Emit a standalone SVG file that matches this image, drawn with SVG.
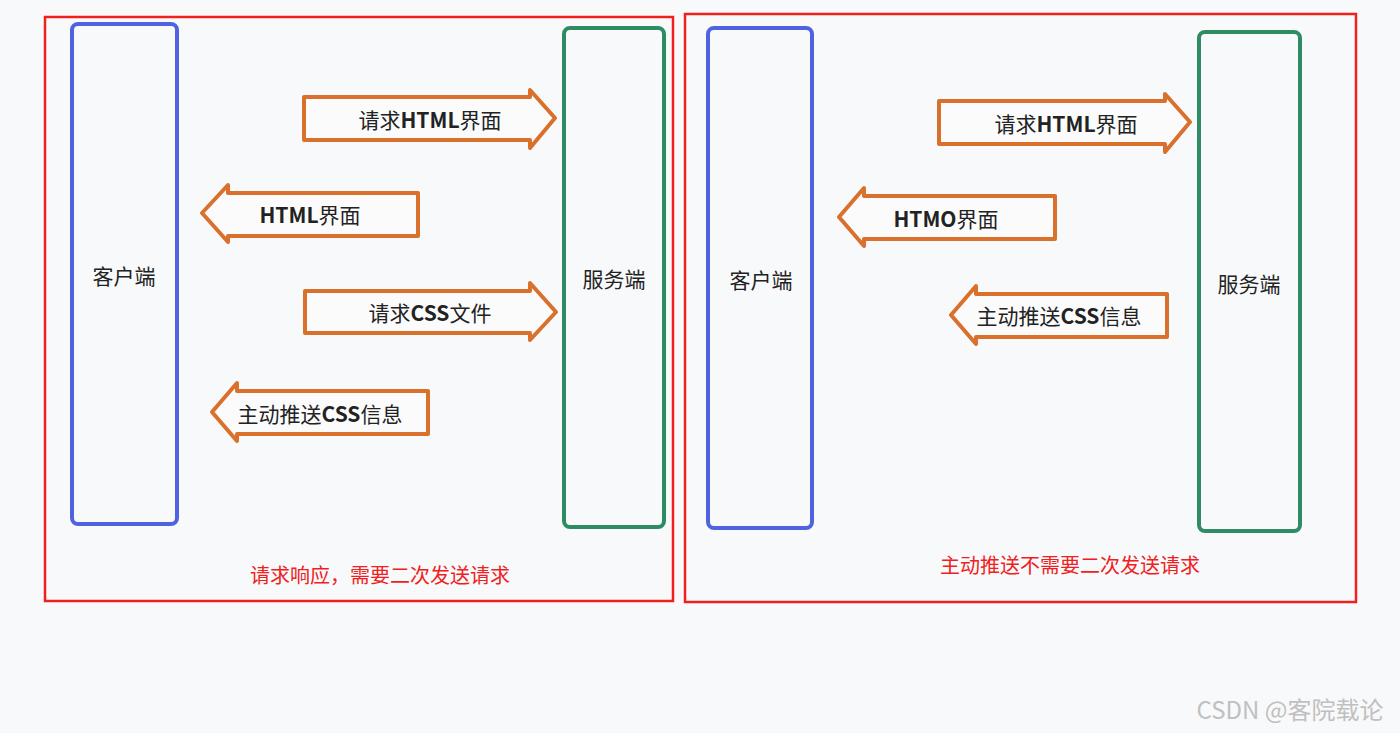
<svg xmlns="http://www.w3.org/2000/svg" width="1400" height="733" viewBox="0 0 1400 733">
<style>
.panel{fill:none;stroke:#f0211c;stroke-width:2.5}
.cli{fill:none;stroke:#4f63e0;stroke-width:4}
.srv{fill:none;stroke:#2e8b63;stroke-width:4}
.arr{fill:#fbfbfc;stroke:#d9702b;stroke-width:4;stroke-linejoin:round}
.t{font-family:"Noto Sans CJK SC","Noto Sans",sans-serif;font-size:21px;fill:#222;text-anchor:middle;dominant-baseline:central}
.r{font-family:"Noto Sans CJK SC",sans-serif;font-size:20px;fill:#f0211c;text-anchor:middle;dominant-baseline:central}
</style>
<rect width="1400" height="733" fill="#f8f9fb"/>
<g id="panel-left"><rect class="panel" x="45" y="17" width="628" height="584"/></g>
<g id="panel-right"><rect class="panel" x="685" y="14" width="671" height="588"/></g>
<g id="client1"><rect class="cli" x="72" y="24" width="105" height="500" rx="6"/><text class="t" x="124" y="275">客户端</text></g>
<g id="server1"><rect class="srv" x="564" y="28" width="100" height="499" rx="6"/><text class="t" x="614" y="278">服务端</text></g>
<g id="client2"><rect class="cli" x="708" y="28" width="104" height="500" rx="6"/><text class="t" x="761" y="279">客户端</text></g>
<g id="server2"><rect class="srv" x="1199" y="32" width="101" height="499" rx="6"/><text class="t" x="1249" y="283">服务端</text></g>
<g id="connectors">
<g id="a1"><path class="arr" d="M304,97 H530 V90 L555,118 L530,148 V140 H304 Z"/><text class="t" x="430" y="119">请求<tspan font-weight="bold">HTML</tspan>界面</text></g>
<g id="a2"><path class="arr" d="M418,193 H228 V185 L202,213 L228,242 V236 H418 Z"/><text class="t" x="310" y="214"><tspan font-weight="bold">HTML</tspan>界面</text></g>
<g id="a3"><path class="arr" d="M305,291 H530 V283 L556,312 L530,340 V333 H305 Z"/><text class="t" x="430" y="312">请求<tspan font-weight="bold">CSS</tspan>文件</text></g>
<g id="a4"><path class="arr" d="M428,391 H237 V383 L212,412 L237,441 V434 H428 Z"/><text class="t" x="320" y="413">主动推送<tspan font-weight="bold">CSS</tspan>信息</text></g>
<g id="a5"><path class="arr" d="M939,101 H1165 V94 L1190,122 L1165,152 V144 H939 Z"/><text class="t" x="1066" y="123">请求<tspan font-weight="bold">HTML</tspan>界面</text></g>
<g id="a6"><path class="arr" d="M1055,196 H864 V188 L839,217 L864,246 V239 H1055 Z"/><text class="t" x="946" y="218"><tspan font-weight="bold">HTMO</tspan>界面</text></g>
<g id="a7"><path class="arr" d="M1167,294 H976 V286 L951,315 L976,344 V337 H1167 Z"/><text class="t" x="1059" y="315">主动推送<tspan font-weight="bold">CSS</tspan>信息</text></g>
</g>
<text class="r" x="380" y="574">请求响应，需要二次发送请求</text>
<text class="r" x="1070" y="564">主动推送不需要二次发送请求</text>
<text x="1290" y="708" font-family="'Noto Sans CJK SC',sans-serif" font-size="24" fill="#c0c0c0" text-anchor="middle" dominant-baseline="central">CSDN @客院载论</text>
</svg>
